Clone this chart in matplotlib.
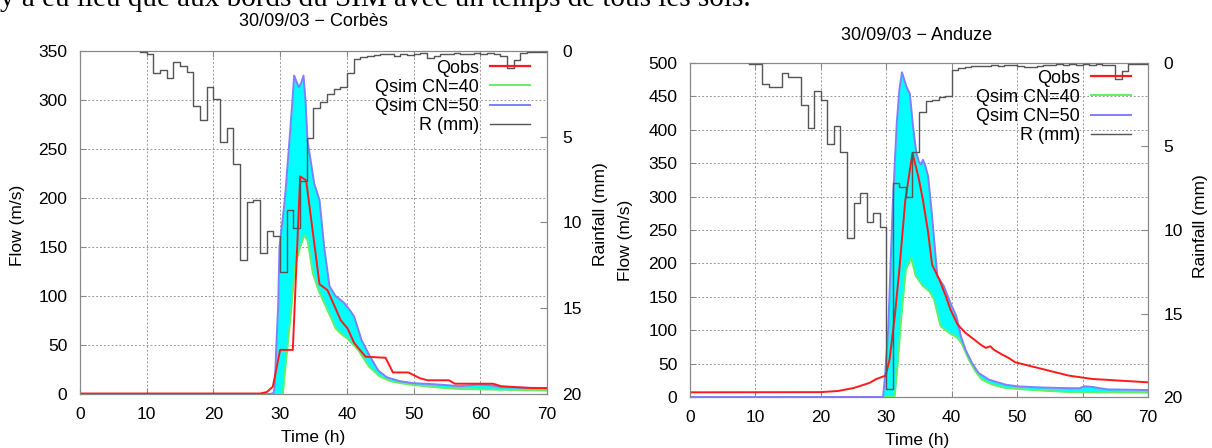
import numpy as np
import matplotlib.pyplot as plt
from matplotlib.lines import Line2D

plt.rcParams['font.family'] = ['Liberation Sans', 'DejaVu Sans']

# hourly rainfall (mm), one value per hour starting at hour 9
rain_hours = list(range(9, 70))
corbes_rain = [0.05, 0.15, 1.27, 1.13, 1.6, 0.64, 0.88, 1.23, 3.2, 4.0,
               2.1, 2.8, 5.3, 4.5, 6.6, 12.2, 8.8, 8.7, 11.8, 10.5,
               10.8, 12.9, 9.3, 10.3, 7.6, 5.1, 3.3, 2.95, 2.5, 2.2,
               2.1, 1.3, 0.45, 0.35, 0.3, 0.25, 0.2, 0.15, 0.3, 0.2,
               0.25, 0.15, 0.1, 0.4, 0.3, 0.2, 0.15, 0.1, 0.2, 0.15,
               0.1, 0.2, 0.1, 0.15, 0.3, 1.0, 0.5, 0.1, 0.05, 0.05, 0.05]
anduze_rain = [0.04, 0.04, 1.27, 1.43, 1.43, 0.57, 0.83, 0.83, 2.5, 3.9,
               1.7, 2.2, 4.85, 3.8, 5.3, 10.5, 8.4, 7.8, 9.5, 8.96,
               9.8, 19.5, 7.2, 7.4, 8.0, 5.3, 2.95, 2.3, 2.2, 2.05,
               1.98, 0.4, 0.3, 0.25, 0.2, 0.2, 0.15, 0.1, 0.15, 0.1,
               0.1, 0.15, 0.25, 0.25, 0.15, 0.1, 0.1, 0.05, 0.1, 0.05,
               0.1, 0.05, 0.1, 0.05, 0.1, 0.1, 0.95, 0.45, 0.05, 0.05, 0.05]

# Corbes flows (m3/s)
corbes_t_cn50 = [0, 28.5, 29.0, 29.2, 29.4, 29.7, 29.9, 30.7, 31.4, 31.85, 32.1, 32.5,
                 32.8, 33.2, 33.5, 33.8, 34.1, 35.1, 35.9, 36.6, 37.4, 38.3, 39.6,
                 40.5, 41.1, 41.7, 42.2, 43.5, 44.7, 46.0, 48.0, 50.0, 53.0, 57.0,
                 59.5, 61.5, 63.0, 66.0, 70.0]
corbes_q_cn50 = [0, 0, 1, 8, 45, 89, 150, 198, 259, 300, 325, 318,
                 313, 318, 325, 300, 259, 215, 198, 150, 110, 100, 93,
                 85, 79, 66, 55, 38, 24, 17, 13, 11, 10, 8,
                 9.5, 9, 7, 6.5, 6]
corbes_t_cn40 = [0, 30.4, 30.7, 31.2, 31.7, 32.2, 33.0, 33.6, 34.1, 34.9, 35.8,
                 36.8, 37.6, 38.3, 39.2, 40.0, 41.7, 43.3, 44.9, 46.5, 49.0,
                 53.0, 57.0, 62.0, 70.0]
corbes_q_cn40 = [0, 0, 21, 55, 89, 130, 150, 162, 157, 123, 105,
                 90, 78, 67, 61, 57, 45, 28, 18, 13, 10,
                 7, 5, 4.5, 3.5]
corbes_t_obs = [0, 27.0, 28.0, 28.9, 30.0, 31.9, 33.0, 33.9, 35.9, 37.1, 39.1,
                40.1, 41.1, 42.8, 45.8, 46.9, 49.2, 51.0, 52.1, 55.3, 56.2,
                61.9, 63.1, 67.7, 70.0]
corbes_q_obs = [0.5, 0.5, 2, 7.5, 45, 45, 222, 218, 112, 106, 75,
                67, 52, 38, 37, 22, 22, 16, 14, 14, 10.5,
                10.5, 8, 6, 6]

# Anduze flows (m3/s)
anduze_t_cn50 = [0, 29.5, 29.8, 30.3, 30.7, 31.0, 31.3, 31.6, 32.0, 32.4, 33.1,
                 33.6, 34.1, 34.6, 35.0, 35.3, 35.6, 36.0, 36.4, 36.9, 37.4,
                 37.8, 38.8, 39.8, 40.7, 41.4, 42.1, 43.1, 44.1, 45.7, 48.2,
                 50.0, 53.0, 56.8, 59.5, 60.3, 61.5, 63.8, 70.0]
anduze_q_cn50 = [0, 0, 30, 102, 210, 290, 350, 410, 460, 486, 464,
                 454, 404, 365, 352, 348, 355, 345, 330, 281, 226,
                 181, 166, 141, 121, 91, 71, 51, 36, 26, 18.5,
                 16, 14.5, 13.4, 13, 16, 15, 11.4, 10.4]
anduze_t_cn40 = [0, 31.2, 31.3, 31.8, 32.3, 33.0, 33.8, 34.5, 35.6, 36.6, 37.3,
                 37.8, 38.3, 39.6, 40.9, 41.6, 42.6, 43.6, 44.6, 46.2, 48.2,
                 49.7, 53.0, 57.9, 62.0, 70.0]
anduze_q_cn40 = [0, 0, 2, 56, 121, 191, 208, 181, 166, 158, 146,
                 126, 106, 96, 88.5, 78.5, 56, 38.5, 26, 18.5, 13.5,
                 12.4, 10, 7.4, 7, 6.5]
anduze_t_obs = [0, 20, 22.6, 25, 27.4, 28.5, 29.9, 30.5, 31.3, 32.0, 32.9,
                34.0, 34.9, 35.6, 36.4, 37.0, 38.1, 39.1, 39.8, 40.9, 42.1,
                43.1, 44.4, 45.2, 45.9, 46.4, 47.7, 48.7, 49.7, 53.8, 57.9,
                61.5, 70]
anduze_q_obs = [7, 7.3, 9, 13.4, 21, 27, 32, 56, 121, 191, 294,
                365, 330, 295, 246, 198, 176, 151, 131, 108.5, 96,
                88.5, 78.5, 73.5, 76, 71, 63.5, 58.5, 52, 42, 32,
                27, 22]

C_OBS = '#ff1a1a'
C_CN40 = '#66ee66'
C_CN50 = '#7f7fff'
C_RAIN = '#555555'
C_FILL = '#00ffff'


def draw_panel(ax, qmax, t50, q50, t40, q40, tobs, qobs, rain, leg_anchor):
    # band between the two simulations
    tt = np.union1d(t50, t40)
    up = np.interp(tt, t50, q50)
    lo = np.interp(tt, t40, q40)
    ax.fill_between(tt, np.minimum(lo, up), up, color=C_FILL, lw=0, zorder=2)
    ax.plot(t40, q40, color=C_CN40, lw=1.4, zorder=3)
    ax.plot(t50, q50, color=C_CN50, lw=1.4, zorder=3)
    ax.plot(tobs, qobs, color=C_OBS, lw=1.4, zorder=4)

    ax.set_xlim(0, 70)
    ax.set_ylim(0, qmax)
    ax.set_xticks(range(0, 71, 10))
    ax.set_yticks(range(0, qmax + 1, 50))
    ax.grid(True, color='#999999', linestyle=(0, (2, 2)), linewidth=0.7)
    ax.set_axisbelow(True)
    ax.tick_params(direction='in', length=4, color='#888888', labelsize=12.5,
                   top=True)
    ax.tick_params(axis='y', pad=9)
    ax.tick_params(axis='x', pad=9)
    for s in ax.spines.values():
        s.set_color('#888888')
        s.set_linewidth(0.8)

    ax2 = ax.twinx()
    xs = list(rain_hours) + [70]
    ys = list(rain) + [rain[-1]]
    ax2.step(xs, ys, where='post', color=C_RAIN, lw=1.0, zorder=5)
    ax2.set_ylim(20, 0)
    ax2.set_yticks([0, 5, 10, 15, 20])
    ax2.tick_params(direction='in', length=5, color='#888888', labelsize=12.5, pad=11)
    for s in ax2.spines.values():
        s.set_color('#888888')
        s.set_linewidth(0.8)

    handles = [Line2D([], [], color=C_OBS, lw=1.6),
               Line2D([], [], color=C_CN40, lw=1.4),
               Line2D([], [], color=C_CN50, lw=1.4),
               Line2D([], [], color=C_RAIN, lw=1.0)]
    labels = ['Qobs', 'Qsim CN=40', 'Qsim CN=50', 'R (mm)']
    ax2.legend(handles, labels, loc='upper right', bbox_to_anchor=leg_anchor,
               frameon=False, markerfirst=False, fontsize=13,
               handlelength=2.2, handletextpad=0.6, labelspacing=0.12,
               borderaxespad=0.3)
    return ax2


fig = plt.figure(figsize=(12.12, 4.48), dpi=100)

# top line of the page, cut by the crop
fig.text(0.0, 1 - 6 / 448, "y a eu lieu que aux bords du SIM avec un temps de tous les sols.",
         fontfamily='Liberation Serif', fontsize=21, va='baseline', ha='left')

ax1 = fig.add_axes([80 / 1212, 1 - 394 / 448, 467 / 1212, 343 / 448])
draw_panel(ax1, 350, corbes_t_cn50, corbes_q_cn50, corbes_t_cn40, corbes_q_cn40,
           corbes_t_obs, corbes_q_obs, corbes_rain, (0.99, 1.012))
fig.text(313 / 1212, 1 - 21 / 448, "30/09/03 \u2212 Corbès", ha='center', va='center', fontsize=13)
fig.text(313 / 1212, 1 - 437 / 448, "Time (h)", ha='center', va='center', fontsize=12.5)
fig.text(18 / 1212, 1 - 225 / 448, "Flow (m/s)", rotation=90, ha='center', va='center', fontsize=12.5)
fig.text(600 / 1212, 1 - 214 / 448, "Rainfall (mm)", rotation=90, ha='center', va='center', fontsize=12.5)

ax3 = fig.add_axes([690 / 1212, 1 - 397 / 448, 458 / 1212, 334 / 448])
draw_panel(ax3, 500, anduze_t_cn50, anduze_q_cn50, anduze_t_cn40, anduze_q_cn40,
           anduze_t_obs, anduze_q_obs, anduze_rain, (0.99, 1.018))
fig.text(917 / 1212, 1 - 36 / 448, "30/09/03 \u2212 Anduze", ha='center', va='center', fontsize=13)
fig.text(917 / 1212, 1 - 440 / 448, "Time (h)", ha='center', va='center', fontsize=12.5)
fig.text(625 / 1212, 1 - 240 / 448, "Flow (m/s)", rotation=90, ha='center', va='center', fontsize=12.5)
fig.text(1200 / 1212, 1 - 226 / 448, "Rainfall (mm)", rotation=90, ha='center', va='center', fontsize=12.5)

fig.savefig("out.png", dpi=100)
